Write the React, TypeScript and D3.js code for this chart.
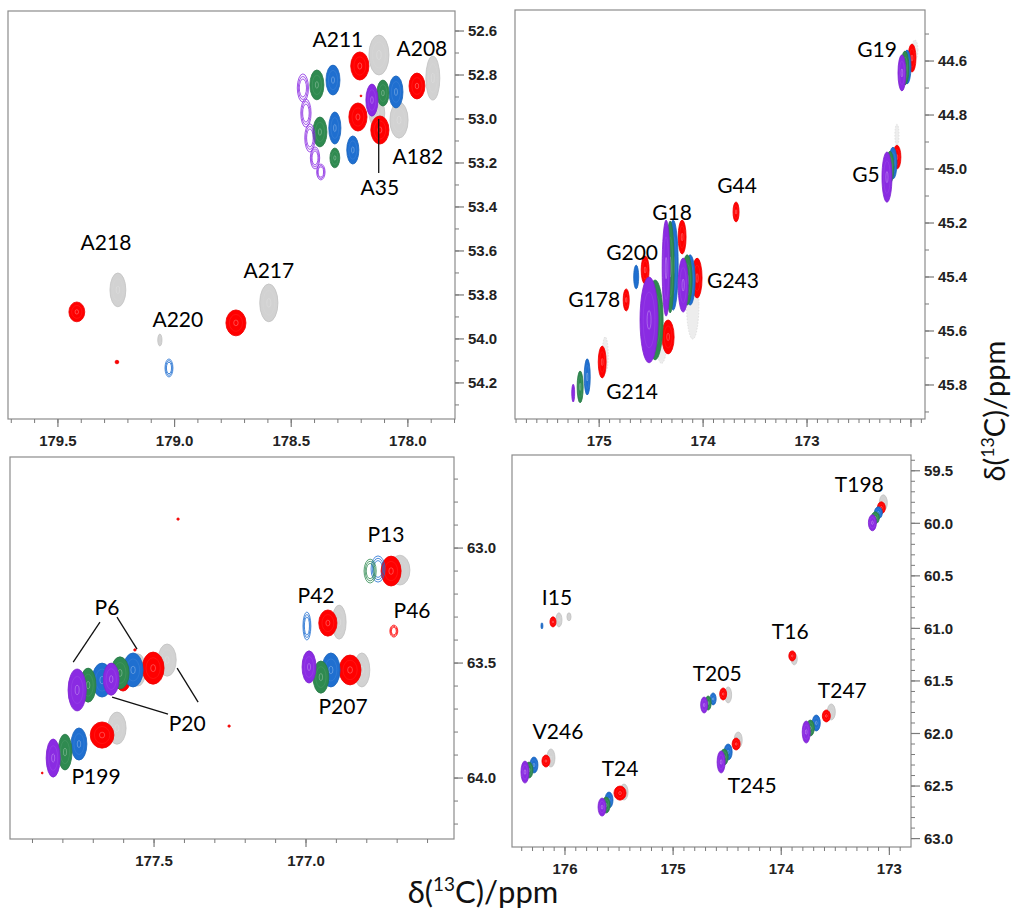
import React from "react";
import * as d3 from "d3";

// series: ref (grey), s1 (red), s2 (blue), s3 (green), s4 (purple)
const SERIES = ["ref", "s1", "s2", "s3", "s4"];
const SERIES_COLORS: Record<string, string> = {
  ref: "#d2d2d2",
  s1: "#ff0000",
  s2: "#1f6fd0",
  s3: "#2f8a50",
  s4: "#8a2be2",
};
const SERIES_EDGE: Record<string, string> = {
  ref: "#c2c2c2",
  s1: "#ee0000",
  s2: "#1a64bd",
  s3: "#297a47",
  s4: "#7d22d0",
};

// [series, δ13C (x, ppm), δ13C (y, ppm), half-width x (ppm), half-width y (ppm), intensity class (1 = weak contours, 2 = faint)]
type Peak = [string, number, number, number, number, number?];
type Label = [string, number, number];
type Leader = [number, number, number, number];

// ---------- Panel A (alanine) ----------
const peaksA: Peak[] = [
  ["ref", 178.124, 52.709, 0.043, 0.091],
  ["s1", 178.206, 52.759, 0.039, 0.064],
  ["s2", 178.321, 52.823, 0.03, 0.068],
  ["s3", 178.39, 52.845, 0.03, 0.068],
  ["s4", 178.45, 52.859, 0.024, 0.064, 1],
  ["s4", 178.437, 52.973, 0.022, 0.064, 1],
  ["s4", 178.42, 53.086, 0.022, 0.064, 1],
  ["s4", 178.398, 53.177, 0.02, 0.05, 1],
  ["s4", 178.373, 53.241, 0.018, 0.036, 1],
  ["ref", 177.893, 52.814, 0.03, 0.1],
  ["s1", 177.961, 52.85, 0.034, 0.059],
  ["s2", 178.051, 52.877, 0.03, 0.073],
  ["s3", 178.107, 52.882, 0.026, 0.059],
  ["s4", 178.154, 52.914, 0.026, 0.073],
  ["s1", 178.214, 52.991, 0.039, 0.064],
  ["ref", 178.038, 53.005, 0.039, 0.082],
  ["ref", 178.133, 52.973, 0.034, 0.064],
  ["s1", 178.12, 53.05, 0.039, 0.064],
  ["s3", 178.377, 53.059, 0.03, 0.068],
  ["s2", 178.313, 53.041, 0.026, 0.073],
  ["s2", 178.236, 53.141, 0.026, 0.064],
  ["s3", 178.313, 53.177, 0.021, 0.045],
  ["ref", 179.243, 53.777, 0.034, 0.077],
  ["s1", 179.419, 53.877, 0.034, 0.045],
  ["ref", 179.063, 54.005, 0.009, 0.027],
  ["s2", 179.024, 54.132, 0.017, 0.041, 1],
  ["s1", 179.247, 54.105, 0.008, 0.008],
  ["s1", 178.201, 52.895, 0.004, 0.004],
  ["ref", 178.596, 53.836, 0.039, 0.086],
  ["s1", 178.737, 53.927, 0.043, 0.059],
];
const labelsA: Label[] = [
  ["A211", 178.3, 52.636],
  ["A208", 177.94, 52.677],
  ["A182", 177.957, 53.168],
  ["A35", 178.12, 53.309],
  ["A218", 179.294, 53.559],
  ["A217", 178.596, 53.686],
  ["A220", 178.986, 53.905],
];
const leadersA: Leader[] = [[178.125, 53.0, 178.125, 53.245]];

// ---------- Panel B (glycine) ----------
const peaksG: Peak[] = [
  ["ref", 171.962, 44.559, 0.029, 0.037, 2],
  ["s1", 171.99, 44.589, 0.038, 0.052],
  ["s2", 172.038, 44.622, 0.038, 0.063],
  ["s3", 172.058, 44.626, 0.038, 0.063],
  ["s4", 172.087, 44.644, 0.038, 0.067],
  ["ref", 172.135, 44.874, 0.02, 0.04, 2],
  ["s1", 172.135, 44.956, 0.038, 0.044],
  ["s2", 172.173, 44.978, 0.038, 0.059],
  ["s3", 172.202, 44.993, 0.038, 0.059],
  ["s4", 172.231, 45.03, 0.048, 0.093],
  ["s1", 173.683, 45.159, 0.029, 0.037],
  ["ref", 174.1, 45.5, 0.06, 0.13, 2],
  ["ref", 174.4, 45.64, 0.05, 0.08, 2],
  ["s2", 174.288, 45.356, 0.048, 0.167],
  ["s3", 174.317, 45.363, 0.038, 0.17],
  ["s4", 174.356, 45.367, 0.038, 0.178],
  ["s1", 174.202, 45.252, 0.038, 0.063],
  ["s2", 174.125, 45.411, 0.048, 0.093],
  ["s3", 174.154, 45.411, 0.048, 0.093],
  ["s4", 174.192, 45.43, 0.048, 0.1],
  ["s1", 174.058, 45.404, 0.048, 0.074],
  ["s1", 174.288, 45.363, 0.029, 0.019],
  ["s1", 174.337, 45.622, 0.058, 0.063],
  ["s3", 174.462, 45.559, 0.077, 0.148],
  ["s4", 174.52, 45.559, 0.087, 0.159],
  ["s1", 174.462, 45.448, 0.029, 0.022],
  ["s1", 174.558, 45.374, 0.038, 0.052],
  ["s2", 174.644, 45.4, 0.024, 0.044],
  ["s1", 174.74, 45.485, 0.029, 0.041],
  ["ref", 174.942, 45.689, 0.029, 0.067, 2],
  ["s1", 174.971, 45.715, 0.038, 0.059],
  ["s2", 175.115, 45.77, 0.029, 0.067],
  ["s3", 175.183, 45.807, 0.029, 0.059],
  ["s4", 175.25, 45.83, 0.014, 0.033],
];
const labelsG: Label[] = [
  ["G19", 172.327, 44.552],
  ["G5", 172.433, 45.015],
  ["G44", 173.673, 45.059],
  ["G18", 174.298, 45.159],
  ["G200", 174.683, 45.304],
  ["G178", 175.048, 45.478],
  ["G243", 173.712, 45.411],
  ["G214", 174.683, 45.819],
];

// ---------- Panel C (proline) ----------
const peaksP: Peak[] = [
  ["ref", 176.691, 63.096, 0.033, 0.065],
  ["s1", 176.72, 63.1, 0.033, 0.065],
  ["s2", 176.763, 63.091, 0.023, 0.057, 1],
  ["s3", 176.789, 63.1, 0.02, 0.052, 1],
  ["ref", 176.891, 63.322, 0.023, 0.074],
  ["s1", 176.928, 63.326, 0.03, 0.057],
  ["s2", 176.997, 63.339, 0.013, 0.061, 1],
  ["s1", 176.711, 63.361, 0.013, 0.026, 1],
  ["ref", 176.816, 63.53, 0.026, 0.074],
  ["s1", 176.855, 63.53, 0.036, 0.065],
  ["s2", 176.918, 63.53, 0.03, 0.074],
  ["s3", 176.951, 63.561, 0.026, 0.07],
  ["s4", 176.99, 63.517, 0.023, 0.07],
  ["ref", 177.457, 63.487, 0.03, 0.07],
  ["s1", 177.503, 63.522, 0.036, 0.07],
  ["ref", 177.553, 63.53, 0.026, 0.07],
  ["s2", 177.569, 63.53, 0.033, 0.074],
  ["s1", 177.602, 63.561, 0.026, 0.061],
  ["s3", 177.612, 63.543, 0.03, 0.07],
  ["s4", 177.641, 63.57, 0.026, 0.07],
  ["s2", 177.671, 63.574, 0.033, 0.074],
  ["s3", 177.717, 63.596, 0.026, 0.074],
  ["s4", 177.753, 63.617, 0.03, 0.091],
  ["ref", 177.622, 63.783, 0.03, 0.07],
  ["s1", 177.671, 63.813, 0.039, 0.057],
  ["s2", 177.747, 63.852, 0.026, 0.07],
  ["s3", 177.793, 63.887, 0.023, 0.078],
  ["s4", 177.832, 63.913, 0.023, 0.083],
  ["s1", 177.421, 62.874, 0.004, 0.005],
  ["s1", 177.253, 63.774, 0.004, 0.005],
  ["s1", 177.868, 63.978, 0.003, 0.004],
  ["s1", 177.563, 63.443, 0.004, 0.005],
];
const labelsP: Label[] = [
  ["P6", 177.655, 63.252],
  ["P20", 177.391, 63.757],
  ["P13", 176.737, 62.935],
  ["P42", 176.967, 63.204],
  ["P46", 176.651, 63.265],
  ["P207", 176.878, 63.683],
  ["P199", 177.691, 63.991],
];
const leadersP: Leader[] = [
  [177.678, 63.322, 177.766, 63.496],
  [177.622, 63.3, 177.556, 63.439],
  [177.355, 63.67, 177.424, 63.522],
  [177.454, 63.722, 177.638, 63.648],
];

// ---------- Panel D (threonine / valine / isoleucine) ----------
const peaksT: Peak[] = [
  ["ref", 173.056, 59.805, 0.037, 0.076],
  ["s1", 173.074, 59.852, 0.037, 0.057],
  ["s2", 173.102, 59.9, 0.037, 0.057],
  ["s3", 173.13, 59.948, 0.037, 0.057],
  ["s4", 173.157, 59.995, 0.037, 0.076],
  ["ref", 175.963, 60.89, 0.019, 0.038],
  ["ref", 176.056, 60.919, 0.028, 0.067],
  ["s1", 176.111, 60.938, 0.028, 0.048],
  ["s2", 176.213, 60.976, 0.009, 0.029],
  ["ref", 173.88, 61.29, 0.028, 0.057],
  ["s1", 173.898, 61.262, 0.032, 0.048],
  ["ref", 174.491, 61.633, 0.032, 0.076],
  ["s1", 174.537, 61.624, 0.032, 0.057],
  ["s2", 174.63, 61.671, 0.028, 0.057],
  ["s3", 174.676, 61.71, 0.028, 0.067],
  ["s4", 174.713, 61.729, 0.032, 0.076],
  ["ref", 173.537, 61.795, 0.037, 0.076],
  ["s1", 173.583, 61.833, 0.037, 0.057],
  ["s2", 173.676, 61.9, 0.037, 0.076],
  ["s3", 173.731, 61.948, 0.037, 0.076],
  ["s4", 173.769, 61.986, 0.037, 0.105],
  ["ref", 174.398, 62.062, 0.037, 0.076],
  ["s1", 174.417, 62.1, 0.037, 0.057],
  ["s2", 174.491, 62.176, 0.037, 0.076],
  ["s3", 174.528, 62.224, 0.037, 0.076],
  ["s4", 174.556, 62.271, 0.037, 0.105],
  ["ref", 176.13, 62.233, 0.037, 0.086],
  ["s1", 176.176, 62.262, 0.037, 0.057],
  ["s2", 176.287, 62.3, 0.037, 0.076],
  ["s3", 176.333, 62.348, 0.037, 0.076],
  ["s4", 176.37, 62.367, 0.037, 0.105],
  ["ref", 175.454, 62.557, 0.037, 0.076],
  ["s1", 175.491, 62.567, 0.056, 0.067],
  ["s2", 175.593, 62.633, 0.037, 0.076],
  ["s3", 175.62, 62.681, 0.037, 0.076],
  ["s4", 175.657, 62.7, 0.037, 0.086],
];
const labelsT: Label[] = [
  ["T198", 173.278, 59.624],
  ["I15", 176.074, 60.7],
  ["T16", 173.917, 61.024],
  ["T205", 174.593, 61.424],
  ["T247", 173.435, 61.586],
  ["V246", 176.065, 61.976],
  ["T24", 175.491, 62.319],
  ["T245", 174.269, 62.49],
];

// tick definitions (ppm)
const ticksXA = [179.5, 179.0, 178.5, 178.0];
const ticksYA = [52.6, 52.8, 53.0, 53.2, 53.4, 53.6, 53.8, 54.0, 54.2];
const ticksXG = [175, 174, 173, 172];
const tickLabelsXG = [175, 174, 173];
const ticksYG = [44.6, 44.8, 45.0, 45.2, 45.4, 45.6, 45.8];
const ticksXP = [177.5, 177.0];
const ticksYP = [63.0, 63.5, 64.0];
const ticksXT = [176, 175, 174, 173];
const ticksYT = [59.5, 60.0, 60.5, 61.0, 61.5, 62.0, 62.5, 63.0];

type PanelDef = {
  key: string;
  box: [number, number, number, number]; // left, top, right, bottom
  xDom: [number, number];
  yDom: [number, number];
  xTicks: number[];
  xLabelTicks: number[];
  xFmt: string;
  yTicks: number[];
  yFmt: string;
  peaks: Peak[];
  labels: Label[];
  leaders: Leader[];
};

const PANELS: PanelDef[] = [
  {
    key: "A", box: [8, 11, 455, 419], xDom: [179.714, 177.798], yDom: [52.509, 54.364],
    xTicks: ticksXA, xLabelTicks: ticksXA, xFmt: ".1f", yTicks: ticksYA, yFmt: ".1f",
    peaks: peaksA, labels: labelsA, leaders: leadersA,
  },
  {
    key: "G", box: [515, 10, 925, 419], xDom: [175.81, 171.865], yDom: [44.411, 45.926],
    xTicks: ticksXG, xLabelTicks: tickLabelsXG, xFmt: "d", yTicks: ticksYG, yFmt: ".1f",
    peaks: peaksG, labels: labelsG, leaders: [],
  },
  {
    key: "P", box: [10, 457, 454, 839], xDom: [177.974, 176.513], yDom: [62.604, 64.265],
    xTicks: ticksXP, xLabelTicks: ticksXP, xFmt: ".1f", yTicks: ticksYP, yFmt: ".1f",
    peaks: peaksP, labels: labelsP, leaders: leadersP,
  },
  {
    key: "T", box: [512, 455, 911, 847], xDom: [176.49, 172.8], yDom: [59.35, 63.08],
    xTicks: ticksXT, xLabelTicks: ticksXT, xFmt: "d", yTicks: ticksYT, yFmt: ".1f",
    peaks: peaksT, labels: labelsT, leaders: [],
  },
];

function minorTicks(dom: [number, number]): number[] {
  const lo = Math.min(dom[0], dom[1]);
  const hi = Math.max(dom[0], dom[1]);
  const out: number[] = [];
  for (let k = Math.ceil(lo * 10 + 1e-6); k <= Math.floor(hi * 10 - 1e-6); k++) out.push(k / 10);
  return out;
}

const TICK_FONT = "'Liberation Sans', Arial, sans-serif";
const LABEL_FONT = "Lato, 'Open Sans', sans-serif";

function PeakShape({ p, x, y }: { p: Peak; x: any; y: any }) {
  const [s, px, py, wx, wy, kind] = p;
  const cx = x(px);
  const cy = y(py);
  const rx = Math.max(0.8, Math.abs(x(px + wx) - cx));
  const ry = Math.max(0.8, Math.abs(y(py + wy) - cy));
  const col = SERIES_COLORS[s];
  const edge = SERIES_EDGE[s];
  if (kind === 1) {
    return (
      <g>
        {[1, 0.82, 0.64].map((f, i) => (
          <ellipse key={i} cx={cx} cy={cy} rx={rx * f} ry={ry * f} fill="none" stroke={col} strokeWidth={0.8} />
        ))}
      </g>
    );
  }
  if (kind === 2) {
    return <ellipse cx={cx} cy={cy} rx={rx} ry={ry} fill="#d8d8d8" fillOpacity={0.45} stroke="#cfcfcf" strokeOpacity={0.7} strokeWidth={0.8} strokeDasharray="1.5 1.5" />;
  }
  const inner = s === "ref" ? "#eeeeee" : "#ffffff";
  return (
    <g>
      <ellipse cx={cx} cy={cy} rx={rx} ry={ry} fill={col} stroke={edge} strokeWidth={0.8} />
      {rx > 2.5 && (
        <>
          <ellipse cx={cx} cy={cy} rx={rx * 0.65} ry={ry * 0.65} fill="none" stroke={inner} strokeOpacity={0.12} strokeWidth={0.6} />
          <ellipse cx={cx} cy={cy} rx={rx * 0.22} ry={ry * 0.22} fill="none" stroke={inner} strokeOpacity={0.45} strokeWidth={0.6} />
        </>
      )}
    </g>
  );
}

function Panel({ def }: { def: PanelDef }) {
  const [l, t, r, b] = def.box;
  const x = d3.scaleLinear().domain(def.xDom).range([l, r]);
  const y = d3.scaleLinear().domain(def.yDom).range([t, b]);
  const xMinor = minorTicks(def.xDom);
  const yMinor = minorTicks(def.yDom);
  const xf = d3.format(def.xFmt);
  const yf = d3.format(def.yFmt);
  const order = (p: Peak) => SERIES.indexOf(p[0]);
  const peaks = def.peaks
    .map((p, i) => ({ p, i }))
    .sort((a, b2) => order(a.p) - order(b2.p) || a.i - b2.i);
  const tickCol = "#7a7a7a";
  return (
    <g>
      <defs>
        <clipPath id={`clip-${def.key}`}>
          <rect x={l} y={t} width={r - l} height={b - t} />
        </clipPath>
      </defs>
      <g clipPath={`url(#clip-${def.key})`}>
        {peaks.map(({ p, i }) => (
          <PeakShape key={i} p={p} x={x} y={y} />
        ))}
      </g>
      {def.leaders.map((ln, i) => (
        <line key={i} x1={x(ln[0])} y1={y(ln[1])} x2={x(ln[2])} y2={y(ln[3])} stroke="#111" strokeWidth={1.3} />
      ))}
      {def.labels.map(([txt, lx, ly]) => (
        <text key={txt} x={x(lx)} y={y(ly)} textAnchor="middle" dominantBaseline="central"
          fontFamily={LABEL_FONT} fontSize={21} fill="#000">{txt}</text>
      ))}
      <rect x={l} y={t} width={r - l} height={b - t} fill="none" stroke="#8c8c8c" strokeWidth={1.2} />
      {xMinor.map((v) => (
        <line key={"xm" + v} x1={x(v)} x2={x(v)} y1={b} y2={b + 4} stroke={tickCol} strokeWidth={1} />
      ))}
      {def.xTicks.map((v) => (
        <line key={"xM" + v} x1={x(v)} x2={x(v)} y1={b} y2={b + 8} stroke={tickCol} strokeWidth={1.2} />
      ))}
      {def.xLabelTicks.map((v) => (
        <text key={"xl" + v} x={x(v)} y={b + 26.5} textAnchor="middle" fontFamily={TICK_FONT}
          fontWeight="bold" fontSize={15} fill="#222">{xf(v)}</text>
      ))}
      {yMinor.map((v) => (
        <line key={"ym" + v} x1={r} x2={r + 4} y1={y(v)} y2={y(v)} stroke={tickCol} strokeWidth={1} />
      ))}
      {def.yTicks.map((v) => (
        <line key={"yM" + v} x1={r} x2={r + 9} y1={y(v)} y2={y(v)} stroke={tickCol} strokeWidth={1.2} />
      ))}
      {def.yTicks.map((v) => (
        <text key={"yl" + v} x={r + 13} y={y(v) + 5.4} textAnchor="start" fontFamily={TICK_FONT}
          fontWeight="bold" fontSize={15} fill="#222">{yf(v)}</text>
      ))}
    </g>
  );
}

function AxisTitle(props: any) {
  const fs = props.fs || 31;
  const { fs: _f, ...rest } = props;
  return (
    <text {...rest} fontFamily={LABEL_FONT} fontSize={fs} fill="#111">
      δ(<tspan fontSize={fs * 0.61} dy={-fs * 0.39}>13</tspan>
      <tspan dy={fs * 0.39}>C)/ppm</tspan>
    </text>
  );
}

export default function App() {
  return (
    <svg width={1017} height={914} viewBox="0 0 1017 914"
      style={{ position: "absolute", left: 0, top: 0, background: "#fff" }}>
      <rect x={0} y={0} width={1017} height={914} fill="#fff" />
      {PANELS.map((p) => (
        <Panel key={p.key} def={p} />
      ))}
      <AxisTitle x={483} y={903} textAnchor="middle" fs={31} />
      <AxisTitle transform="translate(1005,411) rotate(-90)" x={0} y={0} textAnchor="middle" fs={29} />
    </svg>
  );
}
